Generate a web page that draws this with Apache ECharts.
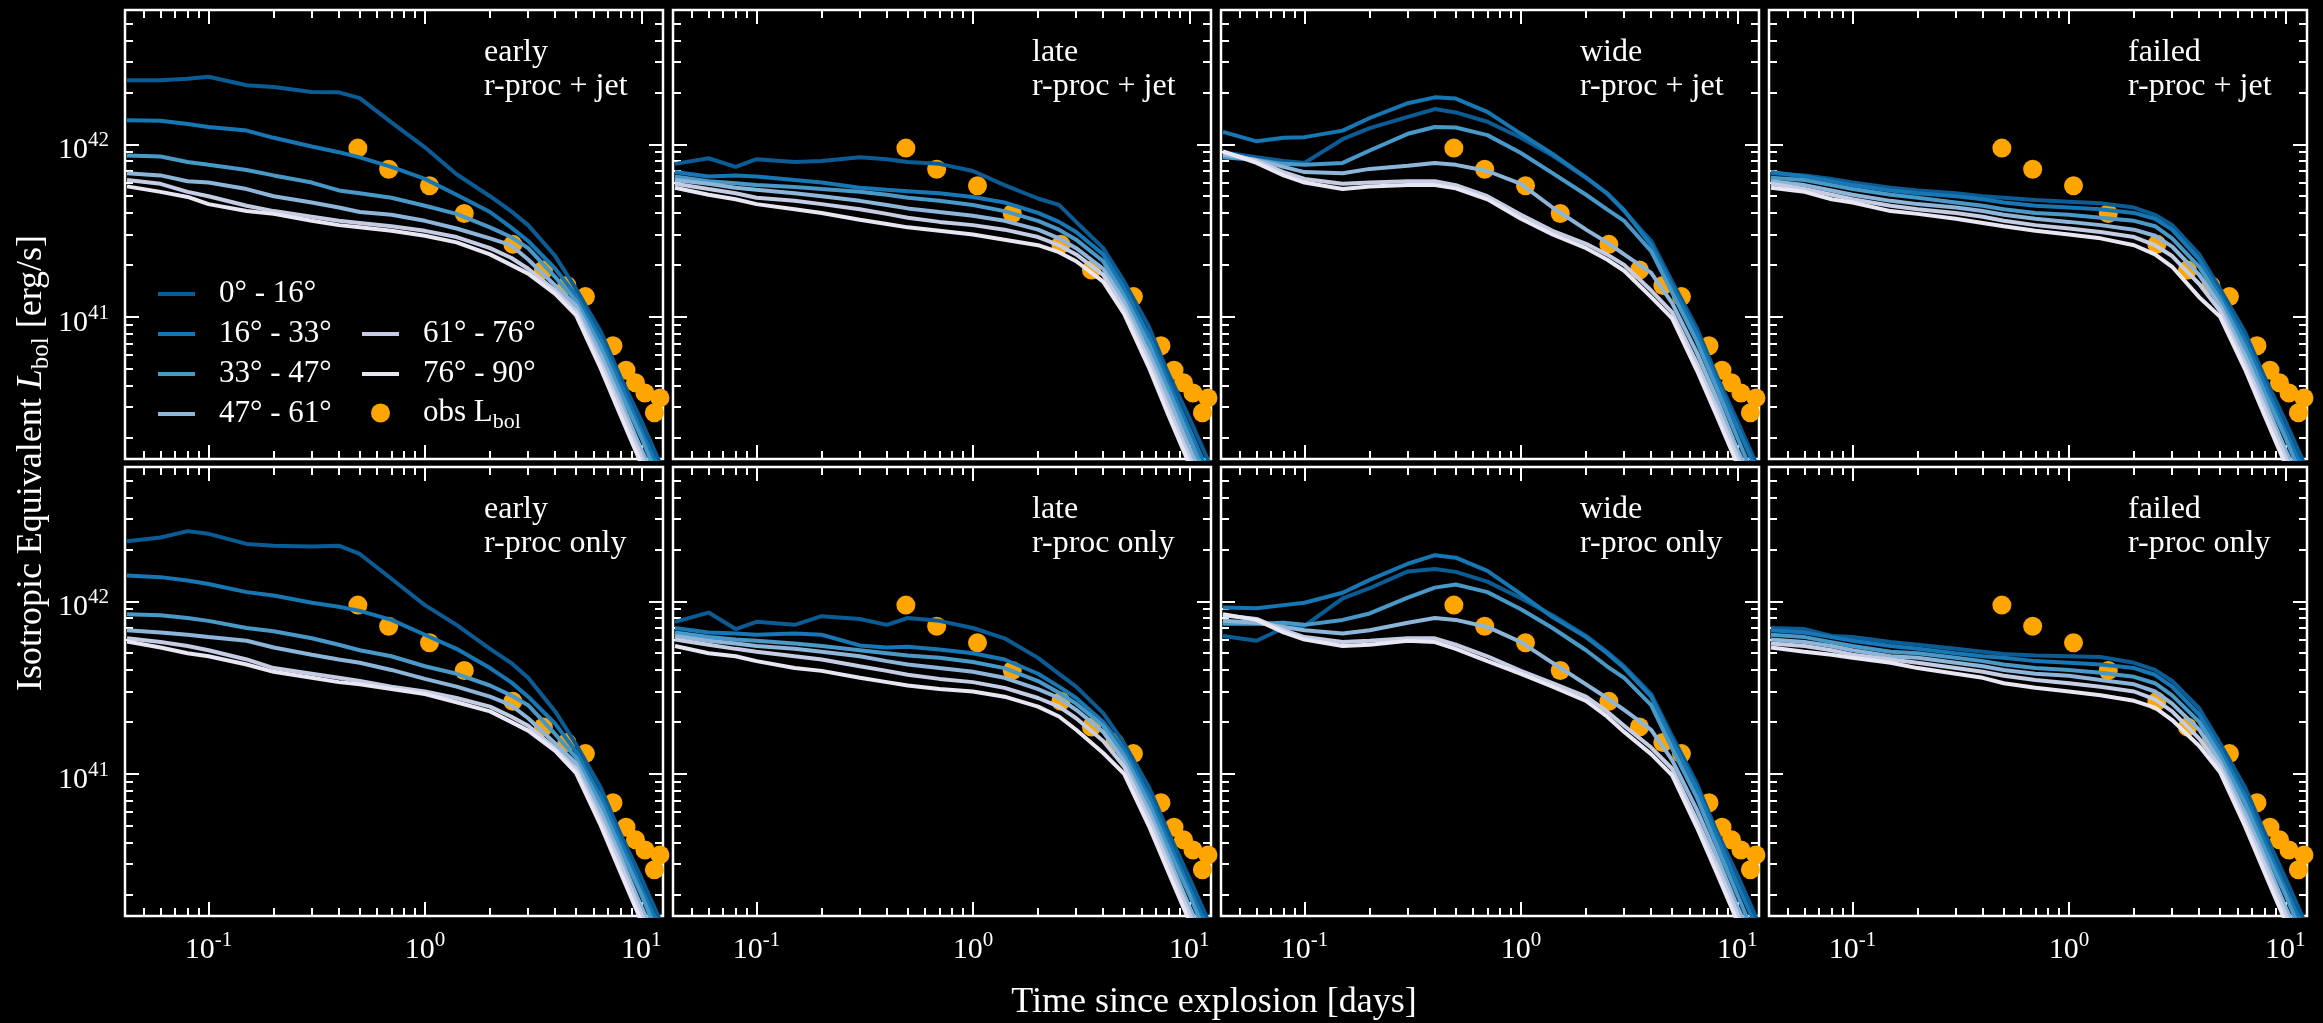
<!DOCTYPE html>
<html>
<head>
<meta charset="utf-8">
<script src="https://cdn.jsdelivr.net/npm/echarts@6/dist/echarts.min.js"></script>
<style>
  html, body { margin: 0; padding: 0; background: #000; }
  #chart { width: 2323px; height: 1023px; }
</style>
</head>
<body>
<div id="chart"></div>
<script>
// time grid (days) shared by all model light curves
const days = [0.042, 0.06, 0.08, 0.1, 0.15, 0.2, 0.3, 0.4, 0.5, 0.7, 1.0, 1.4, 2.0, 2.5, 3.0, 4.0, 5.0, 6.5, 8.0, 10, 12.6];

// observed bolometric luminosity (units of 1e41 erg/s)
const obsDays = [0.49, 0.68, 1.05, 1.52, 2.55, 3.53, 4.53, 5.52, 7.4, 8.5, 9.4, 10.4, 11.5, 12.2];
const obsLum = [9.5, 7.16, 5.75, 3.97, 2.63, 1.87, 1.52, 1.31, 0.68, 0.49, 0.415, 0.362, 0.278, 0.339];

const angleBins = ['0° - 16°', '16° - 33°', '33° - 47°', '47° - 61°', '61° - 76°', '76° - 90°'];
const angleColors = ['#0b5b94', '#1777b4', '#4898c8', '#8cb5d9', '#c4cde4', '#e8e6f2'];

const xMajorTicks = [0.1, 1, 10];
const xMinorTicks = [0.05, 0.06, 0.07, 0.08, 0.09, 0.2, 0.3, 0.4, 0.5, 0.6, 0.7, 0.8, 0.9, 2, 3, 4, 5, 6, 7, 8, 9];
const yMajorTicks = [1, 10]; // 1e41, 1e42
const yMinorTicks = [0.2, 0.3, 0.4, 0.5, 0.6, 0.7, 0.8, 0.9, 2, 3, 4, 5, 6, 7, 8, 9, 20, 30, 40, 50];

// model luminosities, units of 1e41 erg/s, one row per angle bin
const earlyJet = [
  [23.5, 23.5, 24.0, 24.6, 22.0, 21.5, 20.1, 20.0, 18.5, 13.4, 9.6, 6.7, 5.0, 4.1, 3.4, 2.25, 1.45, 0.82, 0.45, 0.25, 0.13],
  [13.8, 13.7, 13.1, 12.6, 12.0, 10.9, 9.7, 9.0, 8.4, 7.4, 6.3, 5.1, 4.05, 3.3, 2.75, 1.9, 1.33, 0.74, 0.41, 0.22, 0.115],
  [8.6, 8.5, 7.9, 7.6, 7.1, 6.6, 6.0, 5.4, 5.2, 4.9, 4.4, 3.95, 3.3, 2.9, 2.5, 1.7, 1.24, 0.67, 0.37, 0.2, 0.1],
  [6.8, 6.6, 6.1, 6.0, 5.5, 5.0, 4.6, 4.3, 4.05, 3.9, 3.6, 3.25, 2.85, 2.6, 2.15, 1.52, 1.16, 0.6, 0.33, 0.17, 0.09],
  [6.2, 5.9, 5.3, 5.0, 4.4, 4.1, 3.8, 3.6, 3.5, 3.35, 3.15, 2.9, 2.5, 2.2, 1.9, 1.42, 1.08, 0.54, 0.3, 0.155, 0.08],
  [5.7, 5.3, 4.95, 4.5, 4.1, 3.95, 3.6, 3.4, 3.3, 3.15, 2.95, 2.7, 2.3, 2.0, 1.78, 1.36, 1.02, 0.5, 0.27, 0.14, 0.07],
];
const lateJet = [
  [7.7, 8.3, 7.4, 8.2, 7.9, 8.0, 8.4, 8.2, 7.9, 7.7, 7.0, 5.8, 4.85, 4.45, 3.55, 2.5, 1.6, 0.88, 0.47, 0.26, 0.135],
  [6.9, 6.5, 6.6, 6.5, 6.2, 6.0, 5.6, 5.45, 5.35, 5.2, 4.95, 4.6, 4.0, 3.55, 3.1, 2.3, 1.45, 0.78, 0.42, 0.225, 0.115],
  [6.5, 6.1, 5.95, 5.8, 5.65, 5.5, 5.3, 5.1, 4.9, 4.7, 4.45, 4.1, 3.6, 3.2, 2.8, 2.1, 1.32, 0.7, 0.38, 0.2, 0.1],
  [6.2, 5.9, 5.6, 5.45, 5.2, 5.0, 4.7, 4.45, 4.25, 4.05, 3.85, 3.6, 3.2, 2.85, 2.5, 1.9, 1.22, 0.62, 0.34, 0.175, 0.09],
  [5.9, 5.5, 5.2, 4.9, 4.7, 4.5, 4.2, 3.95, 3.75, 3.55, 3.4, 3.2, 2.9, 2.6, 2.3, 1.75, 1.12, 0.56, 0.3, 0.155, 0.08],
  [5.6, 5.1, 4.8, 4.5, 4.2, 4.0, 3.65, 3.45, 3.3, 3.15, 3.0, 2.8, 2.6, 2.37, 2.1, 1.6, 1.04, 0.51, 0.27, 0.14, 0.07],
];
const wideJet = [
  [9.0, 8.4, 8.0, 7.8, 10.7, 12.4, 14.4, 16.0, 15.3, 13.5, 10.9, 8.6, 6.4, 5.2, 4.1, 2.75, 1.6, 0.86, 0.46, 0.25, 0.13],
  [11.8, 10.4, 10.9, 11.0, 12.0, 14.2, 17.3, 18.7, 18.4, 15.4, 11.5, 8.8, 6.4, 5.2, 4.15, 2.6, 1.5, 0.8, 0.43, 0.23, 0.12],
  [8.4, 8.1, 7.7, 7.6, 7.8, 9.2, 11.5, 12.6, 12.5, 11.3, 8.9, 6.8, 5.1, 4.2, 3.6, 2.4, 1.38, 0.72, 0.39, 0.2, 0.1],
  [8.7, 8.1, 7.4, 6.9, 6.8, 7.2, 7.5, 7.8, 7.6, 7.0, 5.9, 4.3, 3.2, 2.7, 2.3, 1.8, 1.2, 0.62, 0.34, 0.17, 0.09],
  [9.0, 8.0, 6.9, 6.3, 5.9, 6.0, 6.1, 6.1, 5.8, 5.0, 3.9, 3.15, 2.65, 2.3, 2.0, 1.42, 1.06, 0.54, 0.3, 0.155, 0.08],
  [9.1, 7.8, 6.6, 6.0, 5.5, 5.7, 5.8, 5.8, 5.55, 4.8, 3.7, 3.0, 2.5, 2.15, 1.85, 1.3, 0.98, 0.49, 0.27, 0.14, 0.07],
];
const failedJet = [
  [6.8, 6.6, 6.3, 6.0, 5.6, 5.4, 5.2, 5.0, 4.9, 4.75, 4.65, 4.55, 4.3, 3.9, 3.4, 2.3, 1.45, 0.82, 0.45, 0.25, 0.13],
  [6.9, 6.5, 6.1, 5.8, 5.4, 5.2, 5.0, 4.8, 4.6, 4.4, 4.3, 4.2, 4.0, 3.7, 3.2, 2.15, 1.34, 0.74, 0.41, 0.22, 0.115],
  [6.4, 6.2, 5.8, 5.5, 5.1, 4.9, 4.6, 4.4, 4.2, 4.0, 3.9, 3.75, 3.6, 3.35, 2.85, 1.95, 1.25, 0.67, 0.37, 0.2, 0.1],
  [6.1, 5.8, 5.4, 5.1, 4.7, 4.5, 4.3, 4.1, 3.9, 3.7, 3.55, 3.4, 3.2, 2.95, 2.55, 1.75, 1.16, 0.6, 0.33, 0.17, 0.09],
  [5.9, 5.5, 5.1, 4.8, 4.4, 4.2, 4.0, 3.8, 3.6, 3.4, 3.25, 3.1, 2.9, 2.6, 2.25, 1.55, 1.08, 0.54, 0.3, 0.155, 0.08],
  [5.6, 5.3, 4.8, 4.6, 4.1, 3.95, 3.7, 3.5, 3.35, 3.15, 3.0, 2.85, 2.6, 2.3, 1.95, 1.3, 1.0, 0.5, 0.27, 0.14, 0.07],
];
const earlyOnly = [
  [22.3, 23.4, 25.5, 24.6, 21.5, 21.0, 20.8, 21.0, 18.8, 13.5, 9.5, 7.3, 5.3, 4.4, 3.6, 2.3, 1.48, 0.83, 0.45, 0.25, 0.13],
  [14.1, 13.8, 13.2, 12.6, 11.3, 10.8, 9.8, 9.3, 8.8, 7.8, 6.4, 5.3, 4.1, 3.4, 2.8, 1.95, 1.34, 0.74, 0.41, 0.22, 0.115],
  [8.4, 8.3, 8.0, 7.7, 7.0, 6.7, 6.1, 5.6, 5.2, 4.8, 4.2, 3.8, 3.25, 2.85, 2.5, 1.7, 1.24, 0.67, 0.37, 0.2, 0.1],
  [6.8, 6.6, 6.4, 6.2, 5.9, 5.4, 4.9, 4.6, 4.4, 4.0, 3.55, 3.2, 2.8, 2.5, 2.1, 1.5, 1.15, 0.6, 0.33, 0.17, 0.09],
  [6.1, 5.8, 5.5, 5.2, 4.6, 4.1, 3.8, 3.6, 3.45, 3.2, 3.0, 2.75, 2.45, 2.15, 1.9, 1.4, 1.07, 0.54, 0.3, 0.155, 0.08],
  [5.85, 5.4, 5.0, 4.8, 4.3, 3.9, 3.6, 3.4, 3.3, 3.1, 2.9, 2.6, 2.3, 2.0, 1.78, 1.36, 1.01, 0.5, 0.27, 0.14, 0.07],
];
const lateOnly = [
  [7.6, 8.6, 6.9, 7.6, 7.3, 8.2, 7.9, 7.3, 8.0, 7.7, 7.0, 6.1, 4.7, 3.8, 3.2, 2.25, 1.5, 0.84, 0.46, 0.25, 0.13],
  [7.0, 6.6, 6.5, 6.4, 6.5, 6.4, 5.55, 5.4, 5.45, 5.25, 5.0, 4.6, 3.8, 3.2, 2.75, 2.0, 1.38, 0.75, 0.41, 0.22, 0.115],
  [6.6, 6.2, 6.0, 5.9, 5.7, 5.5, 5.2, 5.0, 4.85, 4.7, 4.45, 4.1, 3.45, 2.95, 2.55, 1.9, 1.28, 0.68, 0.37, 0.2, 0.1],
  [6.3, 5.9, 5.7, 5.5, 5.3, 5.1, 4.8, 4.5, 4.3, 4.1, 3.9, 3.6, 3.1, 2.75, 2.35, 1.75, 1.18, 0.61, 0.33, 0.17, 0.09],
  [6.0, 5.6, 5.3, 5.1, 4.8, 4.6, 4.2, 3.95, 3.75, 3.55, 3.4, 3.15, 2.75, 2.45, 2.1, 1.55, 1.1, 0.55, 0.3, 0.155, 0.08],
  [5.5, 5.0, 4.8, 4.5, 4.1, 3.95, 3.6, 3.4, 3.25, 3.1, 3.0, 2.8, 2.45, 2.15, 1.8, 1.32, 1.0, 0.5, 0.27, 0.14, 0.07],
];
const wideOnly = [
  [6.3, 5.9, 7.0, 7.2, 10.4, 11.9, 14.9, 15.4, 14.8, 13.0, 10.4, 8.3, 6.3, 5.1, 4.2, 2.9, 1.65, 0.88, 0.47, 0.26, 0.135],
  [9.2, 9.1, 9.5, 9.8, 11.2, 13.3, 16.5, 18.5, 17.9, 15.0, 11.0, 8.1, 6.2, 5.0, 4.1, 2.8, 1.55, 0.82, 0.44, 0.23, 0.12],
  [7.4, 7.4, 7.5, 7.3, 7.8, 8.5, 10.5, 12.0, 12.5, 11.3, 9.0, 7.0, 5.2, 4.2, 3.6, 2.5, 1.4, 0.73, 0.39, 0.2, 0.1],
  [7.7, 7.5, 7.1, 6.8, 6.5, 6.8, 7.5, 8.0, 7.8, 7.1, 5.8, 4.4, 3.3, 2.75, 2.35, 1.8, 1.2, 0.62, 0.34, 0.17, 0.09],
  [8.3, 7.9, 6.8, 6.2, 5.8, 5.9, 6.1, 6.1, 5.6, 4.8, 3.95, 3.35, 2.8, 2.3, 1.9, 1.42, 1.07, 0.54, 0.3, 0.155, 0.08],
  [8.4, 7.8, 6.6, 6.0, 5.5, 5.6, 5.9, 5.8, 5.3, 4.5, 3.8, 3.2, 2.65, 2.15, 1.75, 1.3, 0.98, 0.49, 0.27, 0.14, 0.07],
];
const failedOnly = [
  [7.0, 6.9, 6.3, 6.2, 5.8, 5.6, 5.3, 5.1, 4.95, 4.85, 4.8, 4.75, 4.4, 4.0, 3.45, 2.4, 1.5, 0.84, 0.46, 0.25, 0.13],
  [6.8, 6.6, 6.2, 5.9, 5.5, 5.3, 5.0, 4.8, 4.7, 4.5, 4.4, 4.3, 4.1, 3.75, 3.2, 2.2, 1.38, 0.75, 0.41, 0.22, 0.115],
  [6.4, 6.2, 5.8, 5.5, 5.1, 5.0, 4.7, 4.5, 4.3, 4.1, 4.0, 3.85, 3.65, 3.35, 2.85, 2.0, 1.27, 0.68, 0.37, 0.2, 0.1],
  [6.0, 5.8, 5.5, 5.2, 4.8, 4.7, 4.4, 4.2, 4.0, 3.8, 3.7, 3.5, 3.3, 3.0, 2.55, 1.8, 1.17, 0.6, 0.33, 0.17, 0.09],
  [5.7, 5.5, 5.2, 4.9, 4.6, 4.4, 4.1, 3.9, 3.7, 3.5, 3.35, 3.2, 3.0, 2.7, 2.3, 1.6, 1.09, 0.54, 0.3, 0.155, 0.08],
  [5.4, 5.1, 4.9, 4.7, 4.4, 4.1, 3.8, 3.6, 3.35, 3.15, 3.0, 2.85, 2.65, 2.42, 2.05, 1.45, 1.02, 0.5, 0.27, 0.14, 0.07],
];

const panels = [
  { name: 'early', model: 'r-proc + jet', lum: earlyJet },
  { name: 'late', model: 'r-proc + jet', lum: lateJet },
  { name: 'wide', model: 'r-proc + jet', lum: wideJet },
  { name: 'failed', model: 'r-proc + jet', lum: failedJet },
  { name: 'early', model: 'r-proc only', lum: earlyOnly },
  { name: 'late', model: 'r-proc only', lum: lateOnly },
  { name: 'wide', model: 'r-proc only', lum: wideOnly },
  { name: 'failed', model: 'r-proc only', lum: failedOnly },
];

const FONT = 'Liberation Serif';
const X_MIN = 0.0411, X_MAX = 12.6;
const Y_MIN = 0.15, Y_MAX = 60;
const gridLefts = [125, 673, 1221, 1769];
const gridTops = [10, 467];
const gridW = 538, gridH = 449;

const lg = Math.log10;
const supRich = {
  b: { fontFamily: FONT, fontSize: 30, lineHeight: 40, color: '#fff' },
  s: { fontFamily: FONT, fontSize: 21, lineHeight: 20, verticalAlign: 'top', color: '#fff' },
};

// value axis in log10 space, used only to draw ticks (and labels)
function tickAxis(gridIndex, position, lo, hi, values, len, label) {
  return {
    type: 'value', gridIndex, position, min: lo, max: hi, silent: true,
    axisLine: { show: false, onZero: false },
    axisTick: { show: true, inside: true, length: len, customValues: values,
      lineStyle: { color: '#fff', width: 2 } },
    axisLabel: label || { show: false },
    splitLine: { show: false },
  };
}

const grid = [], xAxis = [], yAxis = [], series = [], graphic = [];
const xr = [lg(X_MIN), lg(X_MAX)], yr = [lg(Y_MIN), lg(Y_MAX)];

panels.forEach((p, i) => {
  const row = i < 4 ? 0 : 1, col = i % 4;
  const left = gridLefts[col], top = gridTops[row];
  grid.push({ left, top, width: gridW, height: gridH, show: true,
    borderColor: '#fff', borderWidth: 2.5, backgroundColor: 'transparent' });

  const xLabel = row === 1 ? {
    show: true, customValues: xMajorTicks.map(lg), margin: 14,
    formatter: v => '{b|10}{s|' + Math.round(v) + '}', rich: supRich,
  } : null;
  const yLabel = col === 0 ? {
    show: true, customValues: yMajorTicks.map(lg), margin: 16, padding: [12, 0, 0, 0],
    formatter: v => '{b|10}{s|' + (41 + Math.round(v)) + '}', rich: supRich,
  } : null;

  xAxis.push({ type: 'log', logBase: 10, gridIndex: i, min: X_MIN, max: X_MAX, show: false });
  xAxis.push(tickAxis(i, 'bottom', xr[0], xr[1], xMajorTicks.map(lg), 14, xLabel));
  xAxis.push(tickAxis(i, 'bottom', xr[0], xr[1], xMinorTicks.map(lg), 8));
  xAxis.push(tickAxis(i, 'top', xr[0], xr[1], xMajorTicks.map(lg), 14));
  xAxis.push(tickAxis(i, 'top', xr[0], xr[1], xMinorTicks.map(lg), 8));

  yAxis.push({ type: 'log', logBase: 10, gridIndex: i, min: Y_MIN, max: Y_MAX, show: false });
  yAxis.push(tickAxis(i, 'left', yr[0], yr[1], yMajorTicks.map(lg), 14, yLabel));
  yAxis.push(tickAxis(i, 'left', yr[0], yr[1], yMinorTicks.map(lg), 8));
  yAxis.push(tickAxis(i, 'right', yr[0], yr[1], yMajorTicks.map(lg), 14));
  yAxis.push(tickAxis(i, 'right', yr[0], yr[1], yMinorTicks.map(lg), 8));

  p.lum.forEach((vals, k) => {
    series.push({
      type: 'line', name: angleBins[k], xAxisIndex: i * 5, yAxisIndex: i * 5,
      data: days.map((d, j) => [d, vals[j]]),
      symbol: 'none', showSymbol: false, silent: true,
      lineStyle: { color: angleColors[k], width: 4 },
      itemStyle: { color: angleColors[k] },
      emphasis: { disabled: true },
    });
  });
  series.push({
    type: 'scatter', name: 'obs Lbol', xAxisIndex: i * 5, yAxisIndex: i * 5,
    data: obsDays.map((d, j) => [d, obsLum[j]]),
    symbol: 'circle', symbolSize: 19, silent: true,
    itemStyle: { color: '#ffa500', opacity: 1 },
    emphasis: { disabled: true },
  });

  graphic.push({
    type: 'text', x: left + 359, y: top + 26, silent: true,
    style: { text: p.name + '\n' + p.model, fill: '#fff',
      font: '32px "' + FONT + '"', lineHeight: 34, align: 'left', verticalAlign: 'top' },
  });
});

graphic.push({
  type: 'text', x: 1214, y: 1003, silent: true,
  style: { text: 'Time since explosion [days]', fill: '#fff',
    font: '36px "' + FONT + '"', align: 'center', verticalAlign: 'middle' },
});
graphic.push({
  type: 'text', x: 32, y: 463, rotation: Math.PI / 2, silent: true,
  style: {
    text: '{n|Isotropic Equivalent }{i|L}{sub|bol}{n| [erg/s]}',
    align: 'center', verticalAlign: 'middle', fill: '#fff',
    rich: {
      n: { fontFamily: FONT, fontSize: 36, lineHeight: 44, fill: '#fff' },
      i: { fontFamily: FONT, fontSize: 36, fontStyle: 'italic', lineHeight: 44, fill: '#fff' },
      sub: { fontFamily: FONT, fontSize: 25, lineHeight: 26, verticalAlign: 'bottom', fill: '#fff' },
    },
  },
});

const legendText = { color: '#fff', fontFamily: FONT, fontSize: 31, lineHeight: 40, padding: [0, 0, 0, 19] };
const option = {
  backgroundColor: '#000',
  animation: false,
  grid, xAxis, yAxis, series, graphic,
  legend: [
    { data: angleBins.slice(0, 4), orient: 'vertical', left: 153, top: 269, icon: 'rect',
      itemWidth: 37, itemHeight: 4, itemGap: 0, selectedMode: false, textStyle: legendText },
    { data: angleBins.slice(4), orient: 'vertical', left: 357, top: 309, icon: 'rect',
      itemWidth: 37, itemHeight: 4, itemGap: 0, selectedMode: false, textStyle: legendText },
    { data: ['obs Lbol'], orient: 'vertical', left: 366, top: 388, icon: 'circle',
      itemWidth: 19, itemHeight: 19, selectedMode: false,
      formatter: () => 'obs L{sub|bol}',
      textStyle: Object.assign({}, legendText, { padding: [0, 0, 0, 28],
        rich: { sub: { fontFamily: FONT, fontSize: 22, lineHeight: 24, verticalAlign: 'bottom', color: '#fff' } } }) },
  ],
};

const chart = echarts.init(document.getElementById('chart'));
chart.setOption(option);
</script>
</body>
</html>
